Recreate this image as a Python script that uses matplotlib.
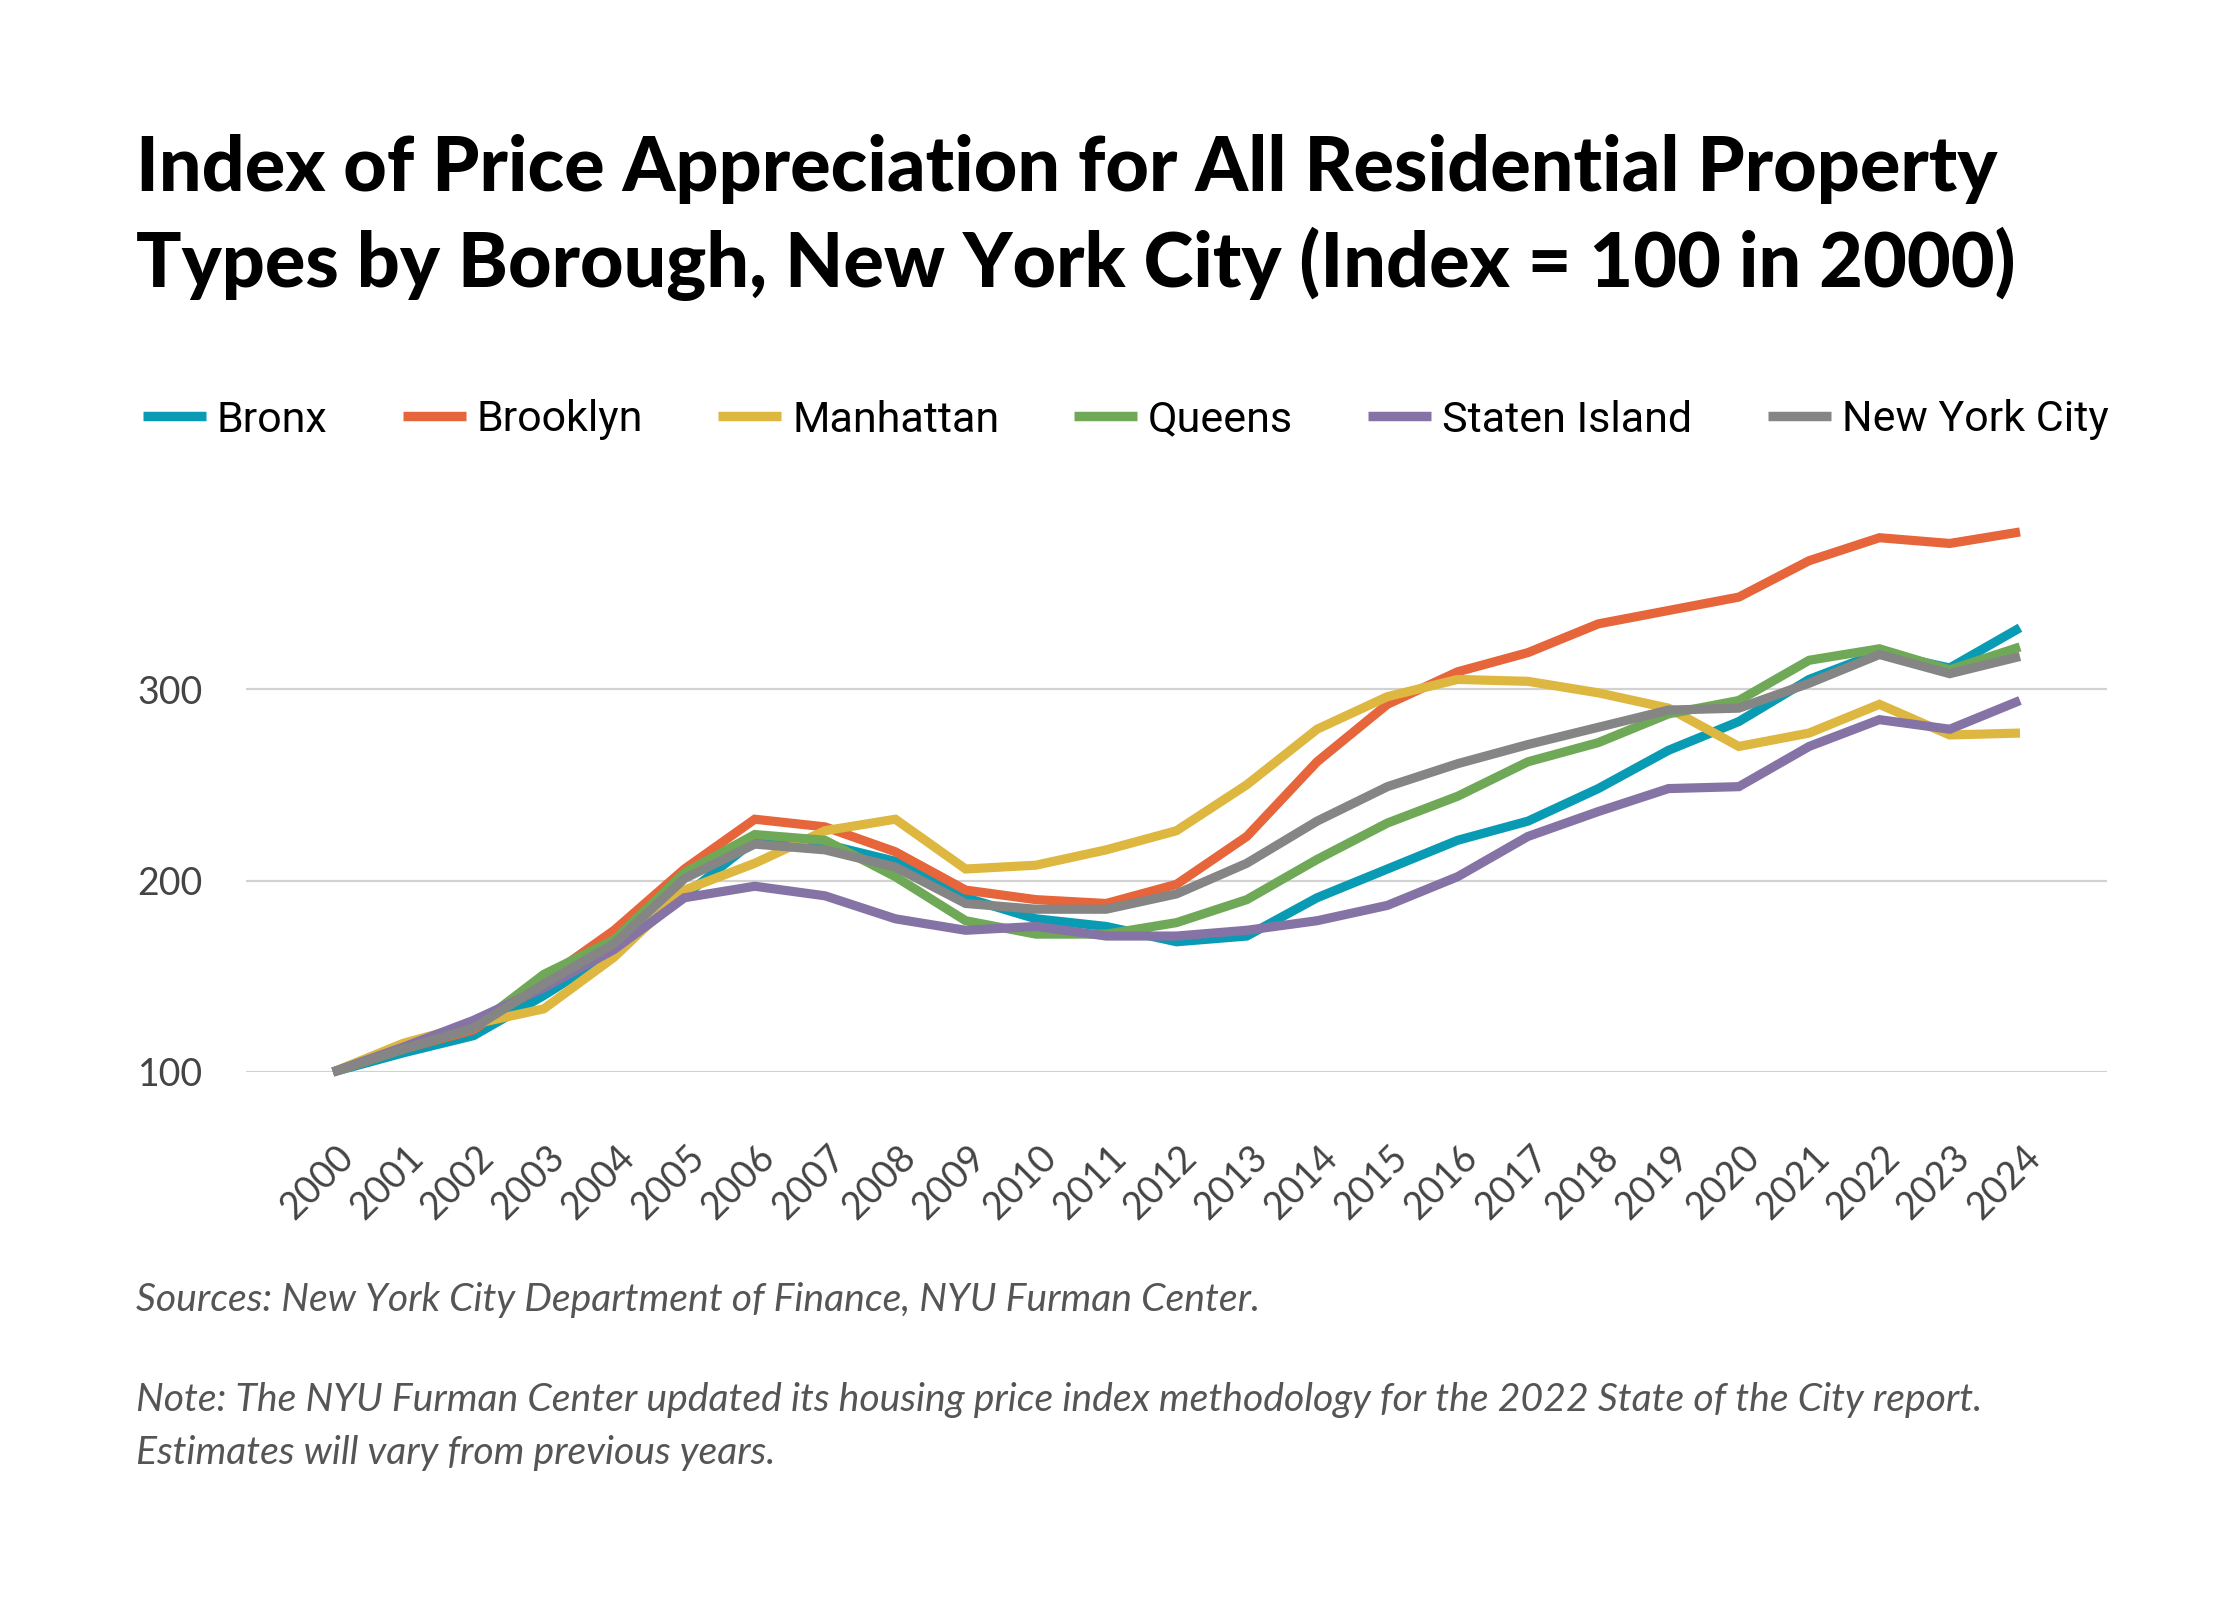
import numpy as np
import matplotlib
matplotlib.use("Agg")
import matplotlib.pyplot as plt
import matplotlib.transforms as mtransforms
from matplotlib import font_manager

# ---------------------------------------------------------
# NYC residential price index by borough (2000 = 100)
# ---------------------------------------------------------

years = list(range(2000, 2025))

bronx = [100, 110, 119, 140, 163, 192, 221, 219, 210, 191, 180, 176, 168, 171, 191, 206,
         221, 231, 248, 268, 283, 305, 319, 311, 332]
brooklyn = [100, 112, 122, 148, 174, 206, 232, 228, 215, 195, 190, 188, 198, 223, 262, 292,
            309, 319, 334, 341, 348, 367, 379, 376, 382]
manhattan = [100, 115, 125, 133, 160, 195, 209, 226, 232, 206, 208, 216, 226, 250, 279, 296,
             305, 304, 298, 290, 270, 277, 292, 276, 277]
queens = [100, 112, 123, 151, 169, 204, 224, 221, 202, 179, 172, 172, 178, 190, 211, 230,
          244, 262, 272, 287, 294, 315, 321, 310, 322]
staten_island = [100, 113, 127, 144, 164, 191, 197, 192, 180, 174, 176, 171, 171, 174, 179, 187,
                 202, 223, 236, 248, 249, 270, 284, 279, 294]
new_york_city = [100, 112, 123, 146, 167, 201, 219, 216, 207, 188, 185, 185, 193, 209, 231, 249,
                 261, 271, 280, 289, 290, 303, 318, 308, 317]

series_names = ["Bronx", "Brooklyn", "Manhattan", "Queens", "Staten Island", "New York City"]
series_values = [bronx, brooklyn, manhattan, queens, staten_island, new_york_city]
series_colors = ["#0A9BB4", "#E6653A", "#DDB73F", "#6FA957", "#8673A5", "#858585"]

y_ticks = [100, 200, 300]

title = ("Index of Price Appreciation for All Residential Property\n"
         "Types by Borough, New York City (Index = 100 in 2000)")
source_note = "Sources: New York City Department of Finance, NYU Furman Center."
method_note = ("Note: The NYU Furman Center updated its housing price index methodology for the 2022 State of the City report.\n"
               "Estimates will vary from previous years.")

available = {f.name for f in font_manager.fontManager.ttflist}
def pick(*names):
    for n in names:
        if n in available:
            return n
    return "DejaVu Sans"

title_font = pick("Lato", "Inter", "Roboto")
legend_font = pick("Roboto", "Noto Sans", "Open Sans")
tick_font = pick("Lato", "Open Sans")
note_font = pick("Lato", "Open Sans")

W, H, DPI = 2240, 1600, 200
fig = plt.figure(figsize=(W / DPI, H / DPI), dpi=DPI)

# axes placement in pixels: gridlines from x=246 to 2107, y=100 at 1072, y=400 at 497
left_px, right_px = 246, 2107
top_px, bottom_px = 497.5, 1072
ax = fig.add_axes([left_px / W, 1 - bottom_px / H, (right_px - left_px) / W, (bottom_px - top_px) / H])

step = (2020 - 333) / 24.0
pad_years = (333 - left_px) / step
ax.set_xlim(years[0] - pad_years, years[-1] + pad_years)
ax.set_ylim(100, 400)

for name, vals, col in zip(series_names, series_values, series_colors):
    ax.plot(years, vals, color=col, lw=3.3, label=name, solid_capstyle="butt",
            solid_joinstyle="miter", clip_on=False, zorder=3)

ax.set_yticks(y_ticks)
ax.set_yticklabels([str(v) for v in y_ticks])
ax.set_xticks(years)
ax.set_xticklabels([str(y) for y in years])
ax.grid(axis="y", color="#D2D2D2", lw=0.8, zorder=1)
ax.grid(axis="x", visible=False)
for s in ax.spines.values():
    s.set_visible(False)
ax.tick_params(axis="both", length=0)
ax.tick_params(axis="y", pad=15.5, labelsize=13.5, labelcolor="#444444")
ax.tick_params(axis="x", pad=24, labelsize=13.5, labelcolor="#444444")
for lab in ax.get_yticklabels():
    lab.set_fontfamily(tick_font)
shift = mtransforms.ScaledTranslation(2 / DPI, 0, fig.dpi_scale_trans)
for lab in ax.get_xticklabels():
    lab.set_fontfamily(tick_font)
    lab.set_rotation(45)
    lab.set_ha("right")
    lab.set_va("top")
    lab.set_rotation_mode("anchor")
    lab.set_transform(lab.get_transform() + shift)

# title
fig.text(136 / W, 1 - 134 / H, title, ha="left", va="top", fontsize=27.2,
         fontweight="black", fontfamily=title_font, color="black", linespacing=1.37)

# legend row
fs_leg = 15.5
fs_px = fs_leg * DPI / 72
leg = fig.legend(loc="center left", bbox_to_anchor=(143 / W, 1 - 420 / H), ncol=6,
                 frameon=False, borderpad=0, borderaxespad=0,
                 handlelength=63 / fs_px, handletextpad=11 / fs_px, columnspacing=75 / fs_px,
                 prop={"family": legend_font, "size": fs_leg})
for line in leg.get_lines():
    line.set_linewidth(3.4)
    line.set_solid_capstyle("butt")

# footnotes
fig.text(136 / W, 1 - 1300 / H, source_note, ha="left", va="center", fontsize=14.1,
         style="italic", fontfamily=note_font, color="#555555")
fig.text(136 / W, 1 - 1382 / H, method_note, ha="left", va="top", fontsize=14.1,
         style="italic", fontfamily=note_font, color="#555555",
         linespacing=1.6)

fig.savefig("out.png", dpi=DPI, facecolor="white")
